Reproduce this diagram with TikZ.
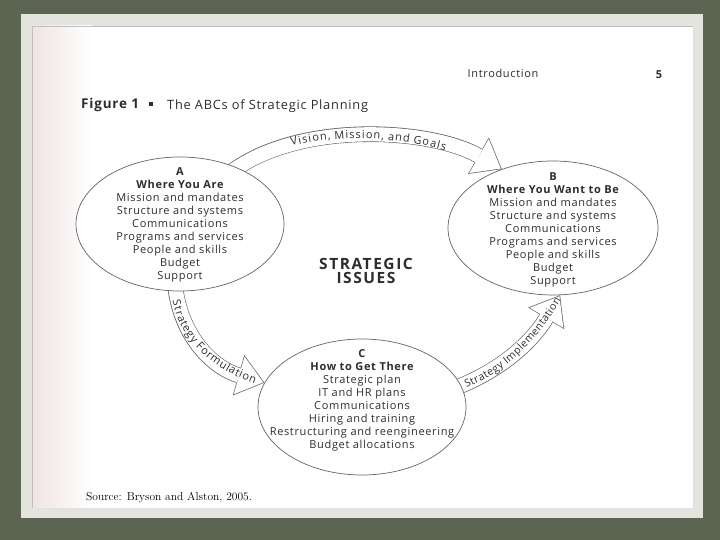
\documentclass[tikz,border=0pt]{standalone}
\usepackage{fontspec}
\newfontfamily\dfont{Open Sans}[LetterSpace=6]
\newfontfamily\wfont{Open Sans}[LetterSpace=10]
\newfontfamily\lfont{Open Sans}
\usetikzlibrary{shapes.geometric,arrows.meta,decorations.text,calc}
\pgfdeclarelayer{bg}\pgfdeclarelayer{mid}
\pgfsetlayers{bg,mid,main}
\definecolor{mossbg}{RGB}{92,101,82}
\definecolor{framec}{RGB}{228,228,222}
\definecolor{ink}{RGB}{45,45,45}
\definecolor{linec}{RGB}{100,100,100}
\definecolor{pinkish}{RGB}{240,228,228}
\newcommand\lblfont{\lfont\fontsize{11}{12}\selectfont\color{ink}}
\newcommand\lblfontsm{\lfont\fontsize{10.5}{12}\selectfont\color{ink}}
\newcommand\kw{\kern1.1pt}
\newcommand\kn{\kern0.6pt}
\newcommand\ks{\kern0.35pt}
\begin{document}
\begin{tikzpicture}[x=1pt,y=1pt,
  circ/.style={ellipse, draw=linec, line width=0.7pt, fill=white, minimum width=208pt, minimum height=134pt, inner sep=0pt},
  ctext/.style={align=center, font=\dfont\fontsize{11}{13}\selectfont, text=ink, inner sep=0pt},
  plain/.style={inner sep=0pt, text=ink},
  bandout/.style={draw=linec, line width=15.6pt, shorten <=-12pt, shorten >=0pt, -{Triangle[length=27pt,width=42pt,line width=0pt]}},
  bandin/.style={draw=white, line width=14.2pt, shorten <=-13pt, shorten >=1.15pt, -{Triangle[length=25.2pt,width=39.2pt,line width=0pt]}},
  lbl/.style={decorate, decoration={text along path, text align=center, raise=-3.6pt, text={#1}}}
]
\useasboundingbox (0,0) rectangle (720,540);
\begin{pgfonlayer}{bg}
  \fill[mossbg] (0,0) rectangle (720,540);
  \fill[framec] (21,526) rectangle (703,22);
  \fill[white] (32,514) rectangle (693,32);
  \shade[left color=pinkish, right color=white] (32,514) rectangle (92,32);
  \draw[black!25, line width=0.8pt] (32,32) -- (32,514) -- (693,514);
  \draw[black!12, line width=0.8pt] (32,32) -- (693,32) -- (693,514);
\end{pgfonlayer}

% header
\node[plain, font=\dfont\fontsize{11}{12}\selectfont] (intro) at (503,467) {Introduction};
\node[plain, font=\dfont\bfseries\fontsize{11}{12}\selectfont] (pg) at (659,465) {5};
\node[plain, anchor=west, font=\dfont\bfseries\fontsize{13.5}{15}\selectfont] (fig) at (81,435) {Figure 1};
\node[fill=ink, minimum size=4.5pt, inner sep=0pt] (sq) at (151,436) {};
\node[plain, anchor=west, font=\dfont\fontsize{12.8}{14}\selectfont] (title) at (167,434) {The ABCs of Strategic Planning};

% circles
\node[circ] (A) at (180,316) {};
\node[circ, minimum width=210pt] (B) at (553,312) {};
\node[circ, minimum height=136pt] (C) at (362,133) {};

\node[ctext] (At) at (180,315) {{\bfseries A}\\{\bfseries Where You Are}\\Mission and mandates\\Structure and systems\\Communications\\Programs and services\\People and skills\\Budget\\Support};
\node[ctext] (Bt) at (553,310.5) {{\bfseries B}\\{\bfseries Where You Want to Be}\\Mission and mandates\\Structure and systems\\Communications\\Programs and services\\People and skills\\Budget\\Support};
\node[ctext] (Ct) at (362,140) {{\bfseries C}\\{\bfseries How to Get There}\\Strategic plan\\IT and HR plans\\Communications\\Hiring and training\\Restructuring and reengineering\\Budget allocations};

\node[ctext, font=\wfont\bfseries\fontsize{15.5}{13.5}\selectfont] (SI) at (366,269) {STRATEGIC\\ISSUES};

% arrows
\begin{pgfonlayer}{mid}
  \draw[bandout] (A.45) .. controls (295,420) and (430,412) .. (B.131);
  \draw[bandin]  (A.45) .. controls (295,420) and (430,412) .. (B.131);
  \draw[bandout] (A.266) .. controls (178,205) and (213,172) .. (C.166);
  \draw[bandin]  (A.266) .. controls (178,205) and (213,172) .. (C.166);
  \draw[bandout] (C.12) .. controls (500,168) and (532,198) .. (B.276);
  \draw[bandin]  (C.12) .. controls (500,168) and (532,198) .. (B.276);
\end{pgfonlayer}
\path[lbl={|\lblfont|V{\kw}i{\kw}s{\kw}i{\kw}o{\kw}n{\kw},{\kw} M{\kw}i{\kw}s{\kw}s{\kw}i{\kw}o{\kw}n{\kw},{\kw} a{\kw}n{\kw}d{\kw} G{\kw}o{\kw}a{\kw}l{\kw}s}]
  (A.45) .. controls (295,420) and (430,412) .. (B.131);
\path[lbl={|\lblfont|S{\kn}t{\kn}r{\kn}a{\kn}t{\kn}e{\kn}g{\kn}y{\kn} F{\kn}o{\kn}r{\kn}m{\kn}u{\kn}l{\kn}a{\kn}t{\kn}i{\kn}o{\kn}n}]
  (A.266) .. controls (178,205) and (213,172) .. (C.166);
\path[lbl={|\lblfontsm|S{\ks}t{\ks}r{\ks}a{\ks}t{\ks}e{\ks}g{\ks}y{\ks} I{\ks}m{\ks}p{\ks}l{\ks}e{\ks}m{\ks}e{\ks}n{\ks}t{\ks}a{\ks}t{\ks}i{\ks}o{\ks}n}]
  (C.12) .. controls (500,168) and (532,198) .. (B.276);

% source
\node[plain, anchor=west, text=black, font=\rmfamily\fontsize{11.5}{13}\selectfont] (src) at (86,42) {Source: Bryson and Alston, 2005.};
\end{tikzpicture}
\end{document}
